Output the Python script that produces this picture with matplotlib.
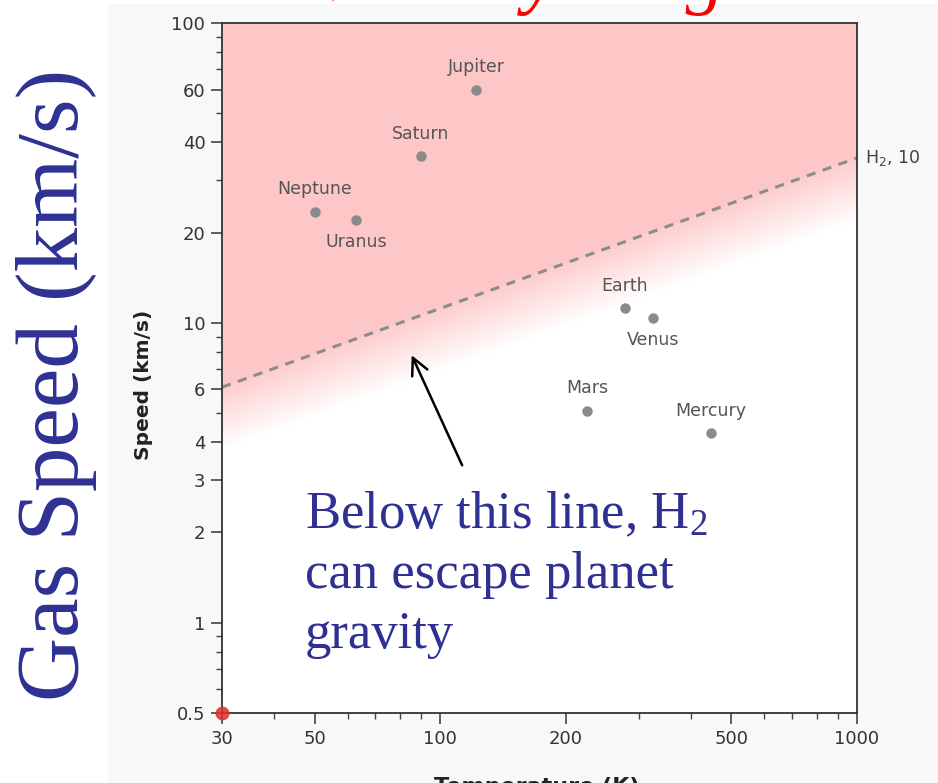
import matplotlib.pyplot as plt
import numpy as np
from matplotlib.patches import Rectangle
from matplotlib.ticker import FixedLocator, LogLocator, NullFormatter, FixedFormatter

# planet data: temperature (K) and escape speed (km/s)
planets = ["Jupiter", "Saturn", "Neptune", "Uranus", "Earth", "Venus", "Mars", "Mercury"]
temps = [122, 90, 50, 63, 277, 324, 225, 447]
speeds = [60, 36, 23.5, 22, 11.2, 10.4, 5.1, 4.3]
label_side = [1, 1, 1, -1, 1, -1, 1, 1]   # 1 = label above, -1 = below

# H2 line (two end points, straight on log-log)
h2_temp = [30, 1000]
h2_speed = [6.1, 35.5]

xticks = [30, 50, 100, 200, 500, 1000]
yticks = [0.5, 1, 2, 3, 4, 6, 10, 20, 40, 60, 100]

pink = np.array([253, 199, 199]) / 255.0
blue = "#2e3192"

plt.rcParams['mathtext.fontset'] = 'custom'
plt.rcParams['mathtext.rm'] = 'Liberation Serif'
plt.rcParams['mathtext.it'] = 'Liberation Serif:italic'

fig = plt.figure(figsize=(9.38, 7.83), dpi=100)
fig.patches.append(Rectangle((108 / 938, 0), 1, 1 - 4 / 783, transform=fig.transFigure,
                             facecolor="#f8f8f8", edgecolor="none", zorder=-5))

ax = fig.add_axes([222 / 938, 1 - 713 / 783, 635 / 938, 690 / 783])
ax.set_xscale("log")
ax.set_yscale("log")
ax.set_xlim(30, 1000)
ax.set_ylim(0.5, 100)
ax.set_facecolor("white")

# shaded region above the H2 line, fading out below it
T = np.array(h2_temp, dtype=float)
V = np.array(h2_speed, dtype=float)
ax.fill_between(T, V, 100, color=pink, lw=0, zorder=1)
nb = 40
depth = 0.21
for k in range(nb):
    f0 = 10 ** (-depth * k / nb)
    f1 = 10 ** (-depth * (k + 1) / nb)
    t = (k + 0.5) / nb
    c = pink * (1 - t) + np.ones(3) * t
    ax.fill_between(T, V * f1, V * f0, color=c, lw=0, zorder=1)

ax.plot(T, V, ls=(0, (3, 2.5)), color="#8c8c8c", lw=2.2, zorder=2)

# planets
ax.plot(temps, speeds, "o", color="#8a8a8a", ms=6.5, zorder=3)
for name, t, s, side in zip(planets, temps, speeds, label_side):
    ax.annotate(name, (t, s), xytext=(0, 16 * side), textcoords="offset points",
                ha="center", va="center", fontsize=12.5, color="#555555", zorder=4)

ax.plot([30], [0.5], "o", color="#e03030", ms=9, alpha=0.85, clip_on=False, zorder=5)

# ticks
ax.xaxis.set_major_locator(FixedLocator(xticks))
ax.xaxis.set_major_formatter(FixedFormatter([str(v) for v in xticks]))
ax.yaxis.set_major_locator(FixedLocator(yticks))
ax.yaxis.set_major_formatter(FixedFormatter([("%g" % v) for v in yticks]))
for a in (ax.xaxis, ax.yaxis):
    a.set_minor_locator(LogLocator(base=10, subs=range(2, 10)))
    a.set_minor_formatter(NullFormatter())
ax.tick_params(which="major", length=8, width=1.2, color="#444444", labelsize=13,
               labelcolor="#333333", pad=4)
ax.tick_params(which="minor", length=4, width=1.0, color="#444444")
for sp in ax.spines.values():
    sp.set_color("#333333")
    sp.set_linewidth(1.3)

fig.text(143 / 938, 1 - 385 / 783, "Speed (km/s)", fontsize=14.5, fontweight="bold",
         color="#222222", rotation=90, ha="center", va="center")
fig.text(537 / 938, 1 - 777 / 783, "Temperature (K)", fontsize=16, fontweight="bold",
         color="#222222", ha="center", va="top")

ax.text(1.012, 35.5, "H$_2$, 10", transform=ax.get_yaxis_transform(), fontsize=12.5,
        color="#444444", va="center", ha="left", clip_on=False,
        family="DejaVu Sans", math_fontfamily="dejavusans")

# arrow and slide annotations
ax.annotate("", xy=(85.5, 7.8), xytext=(113, 3.35),
            arrowprops=dict(arrowstyle="->", color="black", lw=1.8,
                            mutation_scale=30, shrinkA=0, shrinkB=0), zorder=6)

fig.text(305 / 938, 1 - 490 / 783,
         "Below this line, H$_\\mathrm{2}$\ncan escape planet\ngravity",
         fontsize=38, color=blue, family="Liberation Serif", ha="left", va="top",
         linespacing=1.32)

fig.text(57 / 938, 1 - 385 / 783, "Gas Speed (km/s)", fontsize=64, color=blue,
         family="Liberation Serif", rotation=90, ha="center", va="center")

fig.text(312 / 938, 1 + 1 / 783, "Velocity range", fontsize=56, color="red",
         family="Liberation Serif", style="italic", ha="left", va="baseline")

fig.savefig("out.png", dpi=100)
